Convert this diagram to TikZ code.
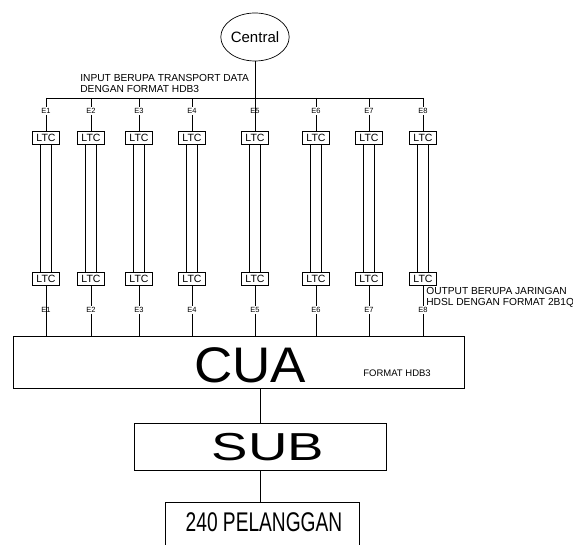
\documentclass[tikz,border=0pt]{standalone}
\usepackage{fontspec}
\setmainfont{Liberation Sans}
\usetikzlibrary{shapes.geometric}

\tikzset{
    ltcbox/.style={draw, minimum width=27pt, minimum height=13pt, inner sep=0pt,
        font=\fontsize{10.5}{12}\selectfont},
    elabel/.style={inner sep=1pt, font=\fontsize{7.5}{9}\selectfont},
    notetext/.style={align=left, inner sep=0pt, font=\fontsize{10.2}{11}\selectfont},
    bigbox/.style={draw, inner sep=0pt}
}

\begin{document}
\begin{tikzpicture}[x=1pt, y=-1pt, line width=0.7pt]
    \useasboundingbox (0,0) rectangle (573,545);

    % Central exchange
    \node[draw, ellipse, minimum width=55pt, minimum height=48pt, inner sep=0pt,
        font=\fontsize{15}{18}\selectfont] (central) at (255,37) {Central};

    \node[notetext, anchor=north west] (inputnote) at (80,74)
        {INPUT BERUPA TRANSPORT DATA\\DENGAN FORMAT HDB3};

    % Eight LTC pairs between the bus and the CUA
    \foreach \i/\x in {1/46, 2/91, 3/139, 4/192, 5/255, 6/316, 7/369, 8/423} {
        \coordinate (bus\i) at (\x,98);
        \node[elabel] (eup\i) at (\x,111) {E\i};
        \node[ltcbox] (ltcup\i) at (\x,137.5) {LTC};
        \node[ltcbox] (ltcdn\i) at (\x,279) {LTC};
        \node[elabel] (edn\i) at (\x,310) {E\i};
        \coordinate (cua\i) at (\x,336);

        \draw (bus\i) -- (eup\i);
        \draw (eup\i) -- (ltcup\i);
        \draw ([xshift=-5.5pt]ltcup\i.south) -- ([xshift=-5.5pt]ltcdn\i.north);
        \draw ([xshift=5.5pt]ltcup\i.south) -- ([xshift=5.5pt]ltcdn\i.north);
        \draw (ltcdn\i) -- (edn\i);
        \draw (edn\i) -- (cua\i);
    }

    % Bus and feed from the central
    \draw (bus1) -- (bus8);
    \draw (central) -- (ltcup5);
    \draw (ltcdn1) -- (cua1);

    \node[notetext, anchor=north west] (outputnote) at (426,287)
        {OUTPUT BERUPA JARINGAN\\HDSL DENGAN FORMAT 2B1Q};

    % CUA
    \node[bigbox, minimum width=451pt, minimum height=52pt] (cua) at (238.5,362) {};
    \node[inner sep=0pt, font=\fontsize{50}{52}\selectfont] (cuatext) at (250,365.5)
        {\scalebox{1.06}[1]{CUA}};
    \node[inner sep=0pt, anchor=base west, font=\fontsize{9.5}{11}\selectfont] (cuanote)
        at (363,377) {FORMAT HDB3};

    % SUB
    \node[bigbox, minimum width=252pt, minimum height=47pt] (sub) at (260,446.5) {};
    \node[inner sep=0pt, font=\fontsize{39}{42}\selectfont] (subtext) at (268,447)
        {\scalebox{1.4}[1]{SUB}};

    % Subscribers
    \node[bigbox, minimum width=194pt, minimum height=60pt] (plg) at (262,532) {};
    \node[inner sep=0pt, font=\fontsize{27}{30}\selectfont] (plgtext) at (264,522.5)
        {\scalebox{0.71}[1]{240 PELANGGAN}};

    \draw (sub.north) -- (sub.north |- cua.south);
    \draw (sub.south) -- (sub.south |- plg.north);

\end{tikzpicture}
\end{document}
